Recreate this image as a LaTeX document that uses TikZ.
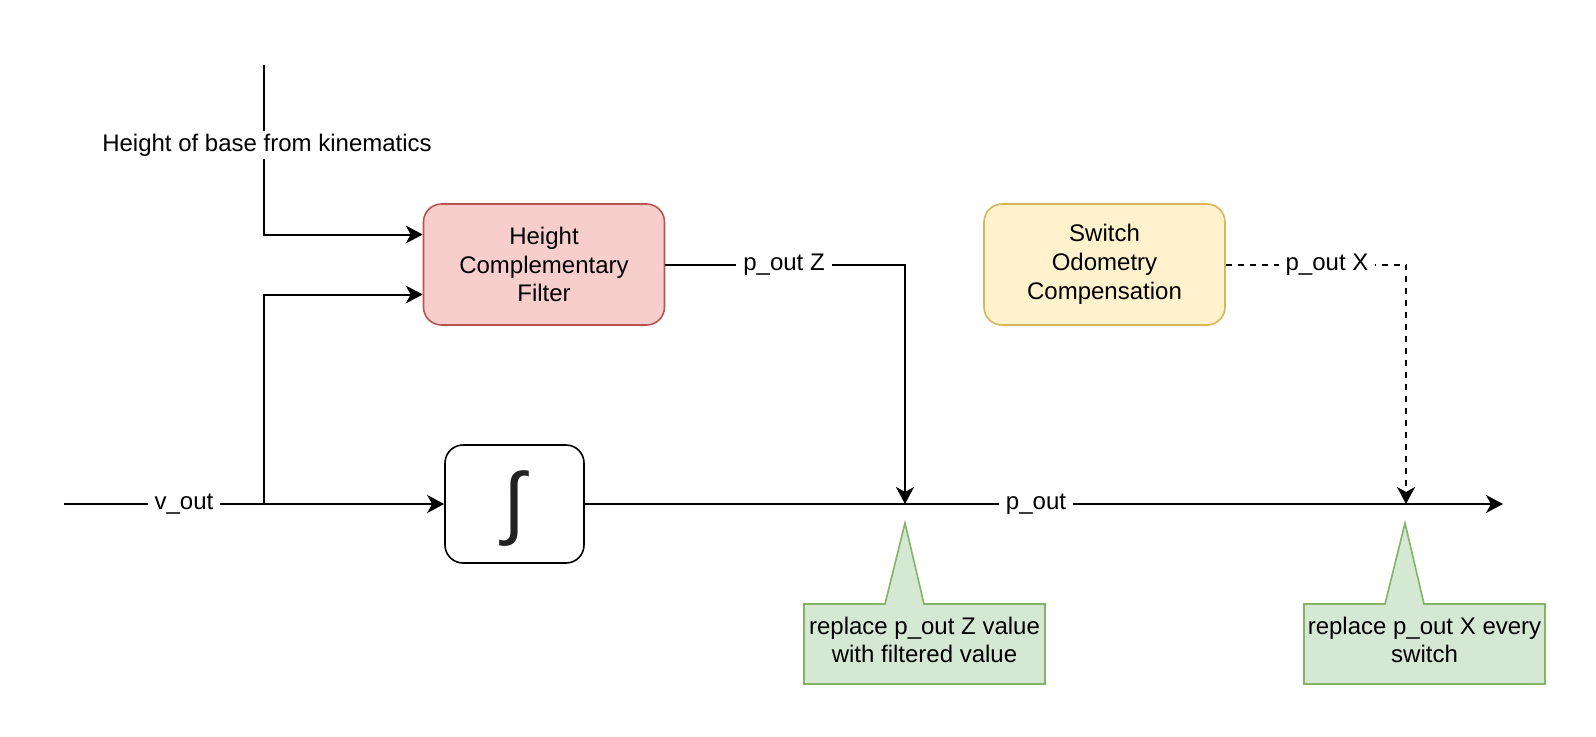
\documentclass[tikz,border=0pt]{standalone}
\usepackage{fontspec}
\setmainfont{Liberation Sans}
\usetikzlibrary{arrows.meta,calc}
\definecolor{redfill}{HTML}{F8CECC}
\definecolor{redline}{HTML}{B85450}
\definecolor{yelfill}{HTML}{FFF2CC}
\definecolor{yelline}{HTML}{D6B656}
\definecolor{grnfill}{HTML}{D5E8D4}
\definecolor{grnline}{HTML}{82B366}
\definecolor{glyph}{HTML}{222222}
\tikzset{
  txt/.style={font=\fontsize{12}{14.4}\selectfont, align=center},
  blockbox/.style={txt, draw, rounded corners=9pt, line width=0.8pt, minimum width=120.5pt, minimum height=60.5pt},
  ln/.style={line width=1pt, black},
  arr/.style={ln, -{Stealth[length=8.5pt,width=9pt,inset=2.5pt]}},
  lbl/.style={txt, fill=white, inner xsep=3.5pt, inner ysep=1.5pt},
  callout/.style={fill=grnfill, draw=grnline, line width=0.8pt},
}
\begin{document}
\begin{tikzpicture}[x=0.5pt,y=-0.5pt]
\useasboundingbox (0,0) rectangle (1596,736);

% blocks
\node[blockbox, fill=redfill, draw=redline] (red) at (544,264.5) {Height\\Complementary\\Filter};
\node[blockbox, fill=yelfill, draw=yelline] (yel) at (1104.5,264.5) {Switch\\Odometry\\Compensation};
\node[blockbox, minimum width=69.5pt, minimum height=59pt, draw=black] (intg) at (514.5,504) {};
\node[inner sep=0pt, text=glyph, font=\fontsize{40}{44}\selectfont] (intsym) at (514.5,509) {∫};

% coordinates
\coordinate (vin) at (64,504);
\coordinate (br) at (264,504);
\coordinate (kin) at (264,65);
\coordinate (jz) at (905,504);
\coordinate (jx) at (1406,504);
\coordinate (pend) at (1503,504);

% connectors
\draw[arr] (vin) -- (intg.west);
\draw[arr] (br) |- ($(red.west)+(0,30)$);
\draw[arr] (kin) |- ($(red.west)+(0,-30)$);
\draw[arr] (red.east) -| (jz);
\draw[arr, dash pattern=on 3pt off 3pt] (yel.east) -| (jx);
\draw[arr] (intg.east) -- (pend);

% edge labels
\node[lbl] (lkin) at (267,145) {Height of base from kinematics};
\node[lbl] (lvout) at (184,504) {v\_out};
\node[lbl] (lpz) at (784,265) {p\_out Z};
\node[lbl] (lpout) at (1036,504) {p\_out};
\node[lbl] (lpx) at (1327,265) {p\_out X};

% callouts
\draw[callout] (804,604) -- (885,604) -- (905,523) -- (924,604) -- (1045,604) -- (1045,684) -- (804,684) -- cycle;
\node[txt] (c1) at (924.5,640) {replace p\_out Z value\\with filtered value};
\draw[callout] (1304,604) -- (1385,604) -- (1405,523) -- (1424,604) -- (1545,604) -- (1545,684) -- (1304,684) -- cycle;
\node[txt] (c2) at (1424.5,640) {replace p\_out X every\\switch};
\end{tikzpicture}
\end{document}
